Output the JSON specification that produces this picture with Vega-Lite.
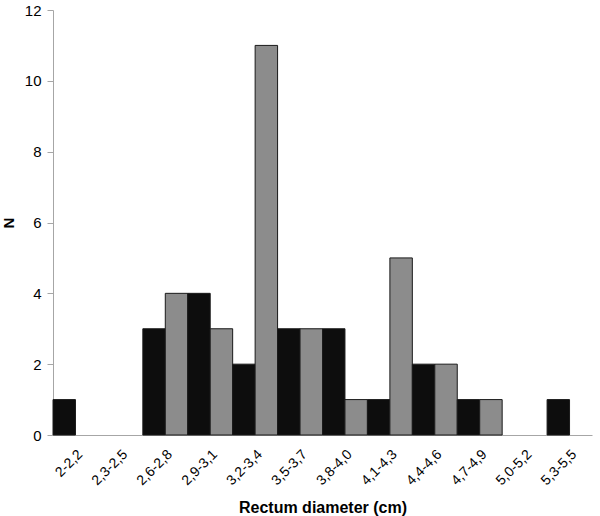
{
  "$schema": "https://vega.github.io/schema/vega-lite/v6.json",
  "width": 539,
  "height": 425,
  "padding": {"left": 53, "top": 10, "right": 8, "bottom": 81},
  "autosize": {"type": "none"},
  "background": "white",
  "config": {
    "font": "Liberation Sans",
    "view": {"stroke": null},
    "axis": {"grid": false, "domainColor": "#a6a6a6", "tickColor": "#a6a6a6", "labelColor": "#000000", "titleColor": "#000000"}
  },
  "data": {
    "values": [
      {"range": "2-2,2", "series": "A", "n": 1},
      {"range": "2-2,2", "series": "B", "n": 0},
      {"range": "2,3-2,5", "series": "A", "n": 0},
      {"range": "2,3-2,5", "series": "B", "n": 0},
      {"range": "2,6-2,8", "series": "A", "n": 3},
      {"range": "2,6-2,8", "series": "B", "n": 4},
      {"range": "2,9-3,1", "series": "A", "n": 4},
      {"range": "2,9-3,1", "series": "B", "n": 3},
      {"range": "3,2-3,4", "series": "A", "n": 2},
      {"range": "3,2-3,4", "series": "B", "n": 11},
      {"range": "3,5-3,7", "series": "A", "n": 3},
      {"range": "3,5-3,7", "series": "B", "n": 3},
      {"range": "3,8-4,0", "series": "A", "n": 3},
      {"range": "3,8-4,0", "series": "B", "n": 1},
      {"range": "4,1-4,3", "series": "A", "n": 1},
      {"range": "4,1-4,3", "series": "B", "n": 5},
      {"range": "4,4-4,6", "series": "A", "n": 2},
      {"range": "4,4-4,6", "series": "B", "n": 2},
      {"range": "4,7-4,9", "series": "A", "n": 1},
      {"range": "4,7-4,9", "series": "B", "n": 1},
      {"range": "5,0-5,2", "series": "A", "n": 0},
      {"range": "5,0-5,2", "series": "B", "n": 0},
      {"range": "5,3-5,5", "series": "A", "n": 1},
      {"range": "5,3-5,5", "series": "B", "n": 0}
    ]
  },
  "transform": [{"filter": "datum.n > 0"}],
  "mark": {"type": "bar", "stroke": "#1a1a1a", "strokeWidth": 1},
  "encoding": {
    "x": {
      "field": "range", "type": "nominal", "sort": null,
      "scale": {"paddingInner": 0, "paddingOuter": 0,
                "domain": ["2-2,2", "2,3-2,5", "2,6-2,8", "2,9-3,1", "3,2-3,4", "3,5-3,7", "3,8-4,0", "4,1-4,3", "4,4-4,6", "4,7-4,9", "5,0-5,2", "5,3-5,5"]},
      "axis": {"title": "Rectum diameter (cm)", "titleFontSize": 16, "titleFontWeight": "bold", "titlePadding": 12,
               "labelAngle": -45, "labelFontSize": 14, "ticks": false, "labelPadding": 12}
    },
    "xOffset": {"field": "series", "type": "nominal", "scale": {"domain": ["A", "B"], "paddingInner": 0, "paddingOuter": 0}},
    "y": {
      "field": "n", "type": "quantitative",
      "scale": {"domain": [0, 12]},
      "axis": {"title": "N", "titleFontSize": 15, "titleFontWeight": "bold", "titlePadding": 8,
               "values": [0, 2, 4, 6, 8, 10, 12], "labelFontSize": 15, "tickSize": 6, "labelPadding": 6}
    },
    "color": {
      "field": "series", "type": "nominal", "legend": null,
      "scale": {"domain": ["A", "B"], "range": ["#0d0d0d", "#8c8c8c"]}
    }
  }
}
